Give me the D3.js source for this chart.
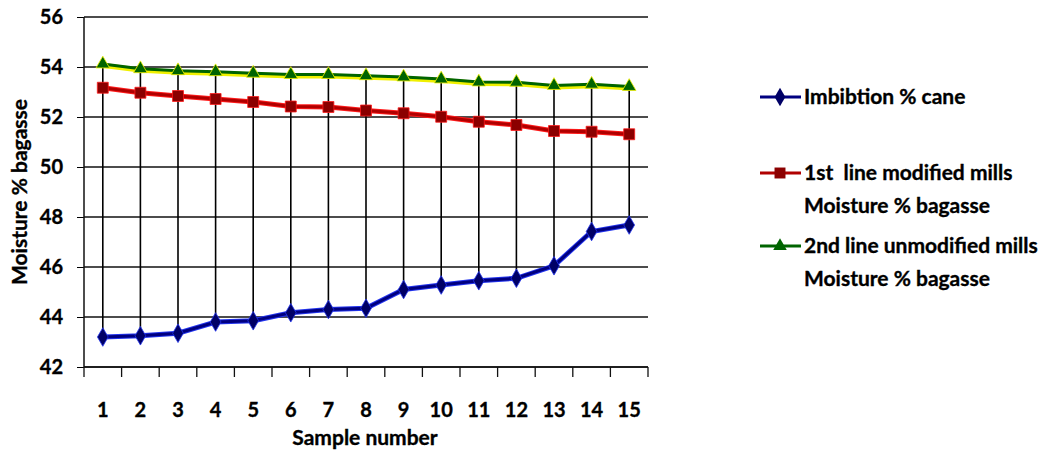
<!DOCTYPE html>
<html>
<head>
<meta charset="utf-8">
<script src="https://cdn.jsdelivr.net/npm/d3@7"></script>
<style>
  body { margin: 0; background: #fff; }
  text { font-family: Lato, "Open Sans", sans-serif; font-weight: bold; fill: #000; stroke: #000; stroke-width: 0.35px; }
</style>
</head>
<body>
<div id="my_graphic"></div>
<script>
// sample numbers on the x axis
var samples = ['1','2','3','4','5','6','7','8','9','10','11','12','13','14','15'];
// y axis ticks
var yTicks = [42, 44, 46, 48, 50, 52, 54, 56];

// values
var imbibition = [43.2, 43.25, 43.35, 43.8, 43.85, 44.17, 44.3, 44.35, 45.1, 45.28, 45.45, 45.55, 46.05, 47.42, 47.68];
var modified   = [53.17, 52.97, 52.84, 52.72, 52.6, 52.42, 52.4, 52.26, 52.15, 52.01, 51.81, 51.68, 51.44, 51.41, 51.31];
var unmodified = [54.12, 53.93, 53.85, 53.81, 53.75, 53.7, 53.7, 53.65, 53.6, 53.52, 53.4, 53.39, 53.26, 53.31, 53.22];

var seriesNames = ['Imbibtion % cane', '1st  line modified mills|Moisture % bagasse', '2nd line unmodified mills|Moisture % bagasse'];

draw_plot();

function draw_plot() {
    const W = 1057, H = 452;
    const margin = {top: 17, left: 84},
        width = 564,
        height = 350;

    const svg = d3.select("#my_graphic")
        .append("svg")
        .attr("width", W)
        .attr("height", H);

    const g = svg.append("g")
        .attr("transform", `translate(${margin.left},${margin.top})`);

    const x = d3.scaleBand()
        .domain(samples)
        .range([0, width]);

    const y = d3.scaleLinear()
        .domain([42, 56])
        .range([height, 0]);

    // horizontal grid + y labels
    g.append("g")
        .call(d3.axisLeft(y).tickValues(yTicks).tickSize(7).tickPadding(14))
        .call(a => a.select(".domain").remove())
        .call(a => a.selectAll(".tick line").attr("stroke", "#000"))
        .call(a => a.selectAll(".tick text").style("font-size", "20px"));

    g.append("g")
        .selectAll("line")
        .data(yTicks)
        .join("line")
        .attr("x1", 0)
        .attr("x2", width)
        .attr("y1", d => y(d))
        .attr("y2", d => y(d))
        .attr("stroke", "#111")
        .attr("stroke-width", 1.3);

    // y axis line
    g.append("line")
        .attr("x1", 0).attr("x2", 0)
        .attr("y1", 0).attr("y2", height)
        .attr("stroke", "#111")
        .attr("stroke-width", 1.5);

    // x axis with ticks between categories
    const xAxis = g.append("g")
        .attr("transform", `translate(0,${height})`);
    xAxis.append("line")
        .attr("x1", 0).attr("x2", width)
        .attr("stroke", "#111").attr("stroke-width", 1.5);
    xAxis.selectAll("line.tk")
        .data(d3.range(samples.length + 1))
        .join("line")
        .attr("class", "tk")
        .attr("x1", i => i * x.step())
        .attr("x2", i => i * x.step())
        .attr("y1", 0).attr("y2", 10)
        .attr("stroke", "#111").attr("stroke-width", 1.3);
    xAxis.selectAll("text")
        .data(samples)
        .join("text")
        .attr("x", d => x(d) + x.bandwidth() / 2)
        .attr("y", 50)
        .attr("text-anchor", "middle")
        .style("font-size", "20px")
        .text(d => d);

    const cx = i => x(samples[i]) + x.bandwidth() / 2;

    // high-low lines
    g.append("g")
        .selectAll("line")
        .data(samples)
        .join("line")
        .attr("x1", (d, i) => cx(i))
        .attr("x2", (d, i) => cx(i))
        .attr("y1", (d, i) => y(Math.max(imbibition[i], modified[i], unmodified[i])))
        .attr("y2", (d, i) => y(Math.min(imbibition[i], modified[i], unmodified[i])))
        .attr("stroke", "#000")
        .attr("stroke-width", 1.6);

    const line = d3.line()
        .x((d, i) => cx(i))
        .y(d => y(d));

    const series = [
        {vals: imbibition, glow: "#2233ee", core: "#000080", mark: "diamond", fill: "#000066"},
        {vals: modified, glow: "#ff1a1a", core: "#b00000", mark: "square", fill: "#8b0000"},
        {vals: unmodified, glow: "#f0f000", core: "#006400", mark: "triangle", fill: "#006400"}
    ];

    const symbols = {diamond: d3.symbolDiamond, square: d3.symbolSquare, triangle: d3.symbolTriangle};
    const sizes = {diamond: 100, square: 120, triangle: 80};

    series.forEach(s => {
        g.append("path")
            .datum(s.vals)
            .attr("d", line)
            .attr("fill", "none")
            .attr("stroke", s.glow)
            .attr("stroke-width", 5)
            .attr("transform", s.mark === "triangle" ? "translate(1,1.5)" : null);
        g.append("path")
            .datum(s.vals)
            .attr("d", line)
            .attr("fill", "none")
            .attr("stroke", s.core)
            .attr("stroke-width", 3);
        g.append("g")
            .selectAll("path")
            .data(s.vals)
            .join("path")
            .attr("transform", (d, i) => `translate(${cx(i)},${y(d)})`)
            .attr("d", d3.symbol().type(symbols[s.mark]).size(sizes[s.mark]))
            .attr("fill", s.fill)
            .attr("stroke", s.glow)
            .attr("stroke-width", 0.8);
    });

    // axis titles
    svg.append("text")
        .attr("x", 365)
        .attr("y", 445)
        .attr("text-anchor", "middle")
        .style("font-size", "21px")
        .text("Sample number");

    svg.append("text")
        .attr("transform", "translate(27,192) rotate(-90)")
        .attr("text-anchor", "middle")
        .style("font-size", "21px")
        .text("Moisture % bagasse");

    // legend
    const legendY = [97, 173, 246];
    const legend = svg.selectAll(".legend")
        .data(series)
        .join("g")
        .attr("class", "legend")
        .attr("transform", (d, i) => `translate(760,${legendY[i]})`);

    legend.append("line")
        .attr("x1", 0).attr("x2", 41)
        .attr("stroke", d => d.core)
        .attr("stroke-width", 3);
    legend.append("path")
        .attr("transform", "translate(20,0)")
        .attr("d", d => d3.symbol().type(symbols[d.mark]).size(sizes[d.mark])())
        .attr("fill", d => d.fill);

    legend.each(function(d, i) {
        const parts = seriesNames[i].split("|");
        const t = d3.select(this).append("text")
            .attr("x", 44)
            .attr("y", 7)
            .style("font-size", "21px")
            .style("white-space", "pre")
            .attr("xml:space", "preserve");
        parts.forEach((p, j) => {
            t.append("tspan")
                .attr("x", 44)
                .attr("dy", j === 0 ? 0 : 33)
                .text(p);
        });
    });
}
</script>
</body>
</html>
